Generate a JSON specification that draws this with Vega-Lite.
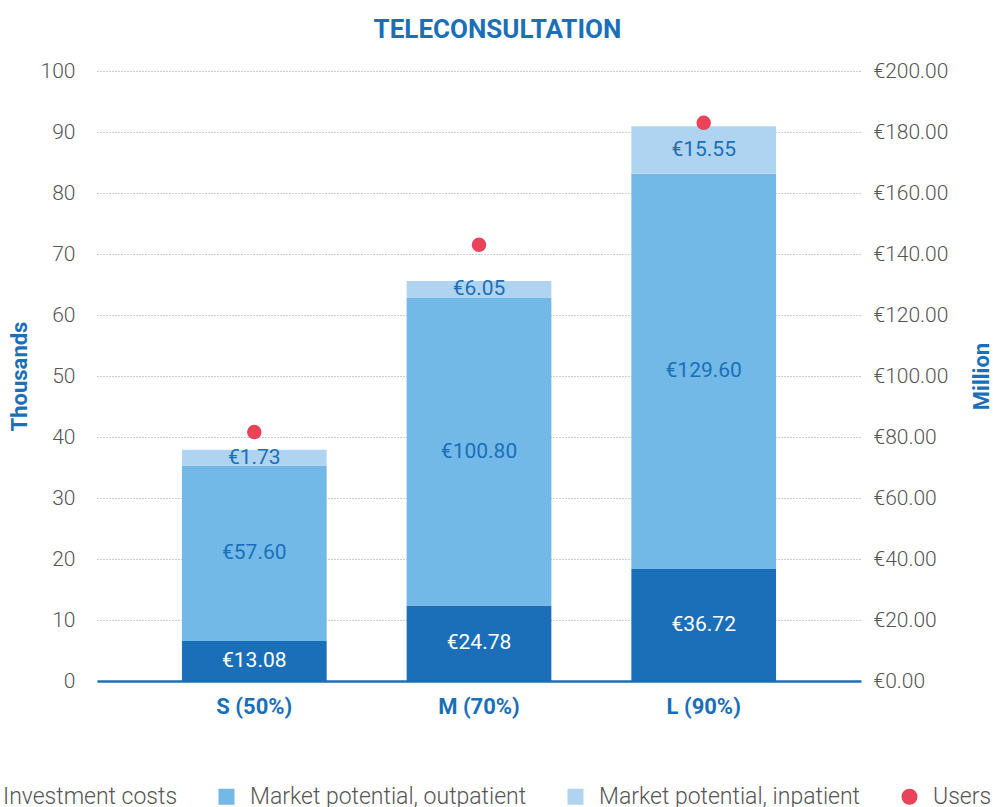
{
  "$schema": "https://vega.github.io/schema/vega-lite/v6.json",
  "autosize": "none",
  "width": 764,
  "height": 610,
  "padding": {"left": 97, "top": 71, "right": 132, "bottom": 126},
  "background": "white",
  "title": {
    "text": "TELECONSULTATION",
    "anchor": "middle",
    "frame": "bounds",
    "font": "Roboto",
    "fontSize": 26,
    "fontWeight": "bold",
    "color": "#1a6fb8",
    "offset": 17,
    "dx": 17
  },
  "datasets": {
    "bars": [
      {"scenario": "S (50%)", "series": "Investment costs", "value": 13.08, "label": "€13.08"},
      {"scenario": "S (50%)", "series": "Market potential, outpatient", "value": 57.6, "label": "€57.60"},
      {"scenario": "S (50%)", "series": "Market potential, inpatient", "value": 5.15, "label": "€1.73"},
      {"scenario": "M (70%)", "series": "Investment costs", "value": 24.78, "label": "€24.78"},
      {"scenario": "M (70%)", "series": "Market potential, outpatient", "value": 100.8, "label": "€100.80"},
      {"scenario": "M (70%)", "series": "Market potential, inpatient", "value": 5.6, "label": "€6.05"},
      {"scenario": "L (90%)", "series": "Investment costs", "value": 36.72, "label": "€36.72"},
      {"scenario": "L (90%)", "series": "Market potential, outpatient", "value": 129.6, "label": "€129.60"},
      {"scenario": "L (90%)", "series": "Market potential, inpatient", "value": 15.55, "label": "€15.55"}
    ],
    "users": [
      {"scenario": "S (50%)", "series": "Users", "users": 40.8},
      {"scenario": "M (70%)", "series": "Users", "users": 71.5},
      {"scenario": "L (90%)", "series": "Users", "users": 91.5}
    ]
  },
  "layer": [
    {
      "data": {"name": "bars"},
      "transform": [
        {"calculate": "indexof(['Investment costs','Market potential, outpatient','Market potential, inpatient'], datum.series)", "as": "ord"},
        {"stack": "value", "groupby": ["scenario"], "sort": [{"field": "ord", "order": "ascending"}], "as": ["y0", "y1"]},
        {"calculate": "(datum.y0 + datum.y1) / 2", "as": "mid"}
      ],
      "layer": [
        {
          "mark": {"type": "bar"},
          "encoding": {
            "x": {"field": "scenario", "type": "nominal", "sort": ["S (50%)", "M (70%)", "L (90%)"],
                  "scale": {"paddingInner": 0.356, "paddingOuter": 0.378}},
            "y": {"field": "y1", "type": "quantitative",
                  "scale": {"domain": [0, 200], "nice": false},
                  "axis": {"orient": "right", "values": [0, 20, 40, 60, 80, 100, 120, 140, 160, 180, 200],
                           "labelExpr": "'€' + format(datum.value, '.2f')", "grid": false,
                           "title": "Million", "titleAngle": 270, "titlePadding": 46, "labelPadding": 12}},
            "y2": {"field": "y0"},
            "color": {"field": "series", "type": "nominal",
                      "scale": {"domain": ["Investment costs", "Market potential, outpatient", "Market potential, inpatient", "Users"],
                                "range": ["#1a6fb8", "#72b9e8", "#afd4f1", "#e9435a"]},
                      "legend": {
                        "title": null, "orient": "none", "direction": "horizontal",
                        "legendX": -129, "legendY": 714,
                        "labelFont": "Roboto", "labelFontSize": 23, "labelFontWeight": 300, "labelColor": "#555555",
                        "symbolSize": 256, "labelOffset": 12, "columnPadding": 37, "labelLimit": 400,
                        "encode": {"symbols": {"update": {
                          "shape": {"signal": "datum.label === 'Users' ? 'circle' : 'square'"},
                          "fill": {"scale": "color", "field": "value"},
                          "strokeWidth": {"value": 0},
                          "opacity": {"value": 1}
                        }}}
                      }}
          }
        },
        {
          "mark": {"type": "text", "font": "Roboto", "fontSize": 21, "fontWeight": 400, "baseline": "middle", "align": "center"},
          "encoding": {
            "x": {"field": "scenario", "type": "nominal", "sort": ["S (50%)", "M (70%)", "L (90%)"]},
            "y": {"field": "mid", "type": "quantitative",
                  "axis": {"orient": "right", "values": [0, 20, 40, 60, 80, 100, 120, 140, 160, 180, 200],
                           "labelExpr": "'€' + format(datum.value, '.2f')", "grid": false,
                           "title": "Million", "titleAngle": 270, "titlePadding": 46, "labelPadding": 12}},
            "text": {"field": "label"},
            "color": {"condition": {"test": "datum.series === 'Investment costs'", "value": "#ffffff"}, "value": "#1a6fb8"}
          }
        }
      ]
    },
    {
      "data": {"name": "users"},
      "mark": {"type": "point", "filled": true, "opacity": 1, "size": 210, "shape": "circle"},
      "encoding": {
        "x": {"field": "scenario", "type": "nominal", "sort": ["S (50%)", "M (70%)", "L (90%)"]},
        "y": {"field": "users", "type": "quantitative",
              "scale": {"domain": [0, 100], "nice": false},
              "axis": {"orient": "left", "values": [0, 10, 20, 30, 40, 50, 60, 70, 80, 90, 100],
                       "grid": true, "gridDash": [1, 2], "gridColor": "#9a9ab0", "gridWidth": 1,
                       "title": "Thousands", "titlePadding": 9, "labelPadding": 22}},
        "color": {"field": "series", "type": "nominal",
                  "scale": {"domain": ["Investment costs", "Market potential, outpatient", "Market potential, inpatient", "Users"],
                            "range": ["#1a6fb8", "#72b9e8", "#afd4f1", "#e9435a"]}}
      }
    }
  ],
  "resolve": {"scale": {"y": "independent"}},
  "config": {
    "font": "Roboto",
    "view": {"stroke": null},
    "axis": {"ticks": false, "domain": false, "labelFont": "Roboto", "labelFontSize": 21, "labelFontWeight": 300,
             "labelColor": "#555555", "titleFont": "Roboto", "titleFontSize": 22, "titleFontWeight": "bold", "titleColor": "#1a6fb8"},
    "axisX": {"title": null, "domain": true, "domainColor": "#1a6fb8", "domainWidth": 2.5, "labelAngle": 0,
              "labelFontWeight": "bold", "labelColor": "#1a6fb8", "labelFontSize": 22, "labelPadding": 15, "grid": false}
  }
}
